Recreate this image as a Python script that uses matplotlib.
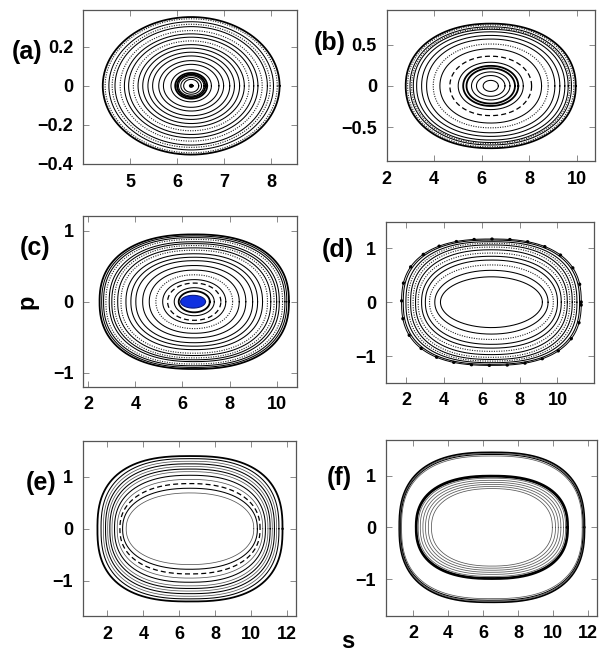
import numpy as np
import matplotlib
matplotlib.use("Agg")
import matplotlib.pyplot as plt

plt.rcParams['font.family'] = ['Liberation Sans', 'DejaVu Sans']
plt.rcParams['font.weight'] = 'bold'

# ---------------- data ----------------
panel_labels = ['(a)', '(b)', '(c)', '(d)', '(e)', '(f)']

# panel (a): orbit amplitudes in s and p, centre, styles
a_center = [6.3, 0.0]
a_amp_s = [1.88, 1.83, 1.75, 1.68, 1.62, 1.51, 1.42, 1.33, 1.23, 1.13, 1.03, 0.92,
           0.82, 0.69, 0.59, 0.43, 0.34, 0.30, 0.27, 0.22, 0.16, 0.03]
a_amp_p = [0.352, 0.343, 0.328, 0.315, 0.303, 0.283, 0.266, 0.249, 0.230, 0.211,
           0.193, 0.172, 0.153, 0.129, 0.110, 0.082, 0.066, 0.058, 0.052, 0.043,
           0.033, 0.006]
a_style = 'tdsdsdssdsssssssttssst'

# panel (b)
b_center = [6.38, 0.0]
b_amp_s = [3.58, 3.50, 3.40, 3.33, 3.26, 3.12, 2.91, 2.70, 2.42, 2.14, 1.72, 1.37,
           1.16, 1.02, 0.81, 0.60, 0.32]
b_amp_p = [0.755, 0.738, 0.716, 0.700, 0.686, 0.656, 0.612, 0.568, 0.508, 0.450,
           0.360, 0.287, 0.243, 0.214, 0.170, 0.126, 0.067]
b_style = 'tdsdssssdsksttsss'

# panel (c)
c_center = [6.5, 0.0]
c_amp_s = [4.02, 3.93, 3.85, 3.75, 3.61, 3.50, 3.39, 3.25, 3.11, 2.90, 2.69, 2.48,
           2.19, 1.91, 1.63, 1.34, 1.13, 0.85, 0.66]
c_amp_p = [0.950, 0.928, 0.905, 0.880, 0.846, 0.820, 0.793, 0.760, 0.727, 0.677,
           0.628, 0.579, 0.511, 0.446, 0.380, 0.312, 0.263, 0.198, 0.150]
c_style = 'tssdssdsdsssssdskst'
c_core_center = [6.45, 0.0]
c_core_amp_s = [0.53]
c_core_amp_p = [0.09]

# panel (d)
d_center = [6.5, 0.0]
d_amp_s = [4.76, 4.67, 4.53, 4.41, 4.28, 4.15, 4.02, 3.88, 3.70, 3.50, 3.28, 3.00, 2.70]
d_amp_p = [1.17, 1.15, 1.12, 1.09, 1.06, 1.02, 0.97, 0.91, 0.85, 0.78, 0.69, 0.59, 0.47]
d_style = 'ossdsdsdssdss'

# panel (e)
e_center = [6.6, 0.0]
e_amp_s = [5.15, 4.95, 4.82, 4.70, 4.58, 4.46, 4.34, 4.20, 4.05, 3.90, 3.75, 3.55]
e_amp_p = [1.40, 1.35, 1.30, 1.25, 1.20, 1.15, 1.10, 1.03, 0.95, 0.87, 0.78, 0.69]
e_style = 'tsgsgsgsgksg'

# panel (f)
f_center = [6.5, 0.0]
f_amp_s = [5.30, 5.26, 5.22, 5.17, 4.36, 4.31, 4.22, 4.10, 3.95, 3.80, 3.64, 3.46]
f_amp_p = [1.45, 1.43, 1.41, 1.38, 1.00, 0.98, 0.95, 0.91, 0.87, 0.83, 0.79, 0.75]
f_style = 'tgsgttgggggg'

# shape exponents (outer, inner) for the orbit curves
exponents = {'a': (2.0, 2.0), 'b': (2.15, 2.0), 'c': (2.35, 2.0), 'd': (2.5, 2.0),
             'e': (2.6, 2.2), 'f': (2.6, 2.3)}

# axes limits and ticks
xlims = {'a': (4.0, 8.55), 'b': (2.0, 10.77), 'c': (1.79, 10.85), 'd': (0.9, 11.95),
         'e': (0.63, 12.5), 'f': (0.42, 12.5)}
ylims = {'a': (-0.4, 0.388), 'b': (-0.91, 0.92), 'c': (-1.2, 1.21), 'd': (-1.49, 1.49),
         'e': (-1.68, 1.69), 'f': (-1.71, 1.69)}
xticks = {'a': [5, 6, 7, 8], 'b': [2, 4, 6, 8, 10], 'c': [2, 4, 6, 8, 10],
          'd': [2, 4, 6, 8, 10], 'e': [2, 4, 6, 8, 10, 12], 'f': [2, 4, 6, 8, 10, 12]}
yticks = {'a': [-0.4, -0.2, 0, 0.2], 'b': [-0.5, 0, 0.5], 'c': [-1, 0, 1],
          'd': [-1, 0, 1], 'e': [-1, 0, 1], 'f': [-1, 0, 1]}
ytick_labels = {'a': ['\u22120.4', '\u22120.2', '0', '0.2'], 'b': ['\u22120.5', '0', '0.5'],
                'c': ['\u22121', '0', '1'], 'd': ['\u22121', '0', '1'],
                'e': ['\u22121', '0', '1'], 'f': ['\u22121', '0', '1']}

# ---------------- layout ----------------
W, H = 605, 658
fig = plt.figure(figsize=(W / 100, H / 100), dpi=100)

def px_axes(l, t, r, b):
    return fig.add_axes([l / W, 1 - b / H, (r - l) / W, (b - t) / H])

boxes = {'a': (83, 10, 297, 164), 'b': (386.7, 10, 595, 161),
         'c': (83.3, 216, 296.7, 386.7), 'd': (385.7, 221.7, 594.3, 382.7),
         'e': (82.7, 441, 296, 616), 'f': (385.7, 440, 596.7, 615.7)}
label_pos = {'a': (12, 52), 'b': (314, 43), 'c': (20, 248), 'd': (322, 250),
             'e': (26, 483), 'f': (327, 478)}

panels = {'a': (a_center, a_amp_s, a_amp_p, a_style),
          'b': (b_center, b_amp_s, b_amp_p, b_style),
          'c': (c_center, c_amp_s, c_amp_p, c_style),
          'd': (d_center, d_amp_s, d_amp_p, d_style),
          'e': (e_center, e_amp_s, e_amp_p, e_style),
          'f': (f_center, f_amp_s, f_amp_p, f_style)}

t = np.linspace(0, 2 * np.pi, 721)

def orbit(center, A, B, n):
    c, s = np.cos(t), np.sin(t)
    x = center[0] + A * np.sign(c) * np.abs(c) ** (2.0 / n)
    y = center[1] + B * np.sign(s) * np.abs(s) ** (2.0 / n)
    return x, y

style_kw = {
    's': dict(color='black', lw=0.75, ls='-'),
    't': dict(color='black', lw=1.3, ls='-'),
    'g': dict(color='#555555', lw=0.55, ls='-'),
    'd': dict(color='#222222', lw=0.8, ls=(0, (1.0, 1.2))),
    'k': dict(color='black', lw=0.9, ls=(0, (4, 2.5))),
    'o': dict(color='black', lw=2.3, ls=(0, (0.1, 5.5)), dash_capstyle='round'),
}

for i, key in enumerate('abcdef'):
    ax = px_axes(*boxes[key])
    center, amp_s, amp_p, style = panels[key]
    n_out, n_in = exponents[key]
    amax, amin = max(amp_s), min(amp_s)
    for A, B, st in zip(amp_s, amp_p, style):
        frac = (A - amin) / (amax - amin) if amax > amin else 1.0
        n = n_in + (n_out - n_in) * frac
        x, y = orbit(center, A, B, n)
        ax.plot(x, y, **style_kw[st])
        if st == 'o':
            ax.plot(x, y, color='black', lw=0.7)
    if key == 'c':
        for A, B in zip(c_core_amp_s, c_core_amp_p):
            x, y = orbit(c_core_center, A, B, 2.0)
            ax.fill(x, y, color='#1030e0', lw=0)
            ax.plot(x, y, color='#0a1a80', lw=0.8)
    ax.set_xlim(*xlims[key])
    ax.set_ylim(*ylims[key])
    ax.set_xticks(xticks[key])
    ax.set_xticklabels([str(v) for v in xticks[key]])
    ax.set_yticks(yticks[key])
    ax.set_yticklabels(ytick_labels[key])
    ax.tick_params(direction='in', top=True, right=True, length=4, width=0.6,
                   color='#777777', labelsize=13, pad=7)
    for lab in ax.get_xticklabels() + ax.get_yticklabels():
        lab.set_fontweight('bold')
    for sp in ax.spines.values():
        sp.set_color('#555555')
        sp.set_linewidth(0.9)
    lx, ly = label_pos[key]
    fig.text(lx / W, 1 - ly / H, panel_labels[i], ha='left', va='center',
             fontsize=18, fontweight='bold')

fig.text(27 / W, 1 - 302 / H, 'p', rotation=90, ha='center', va='center',
         fontsize=17, fontweight='bold')
fig.text(348 / W, 1 - 641 / H, 's', ha='center', va='center',
         fontsize=17, fontweight='bold')

fig.savefig('out.png', dpi=100)
